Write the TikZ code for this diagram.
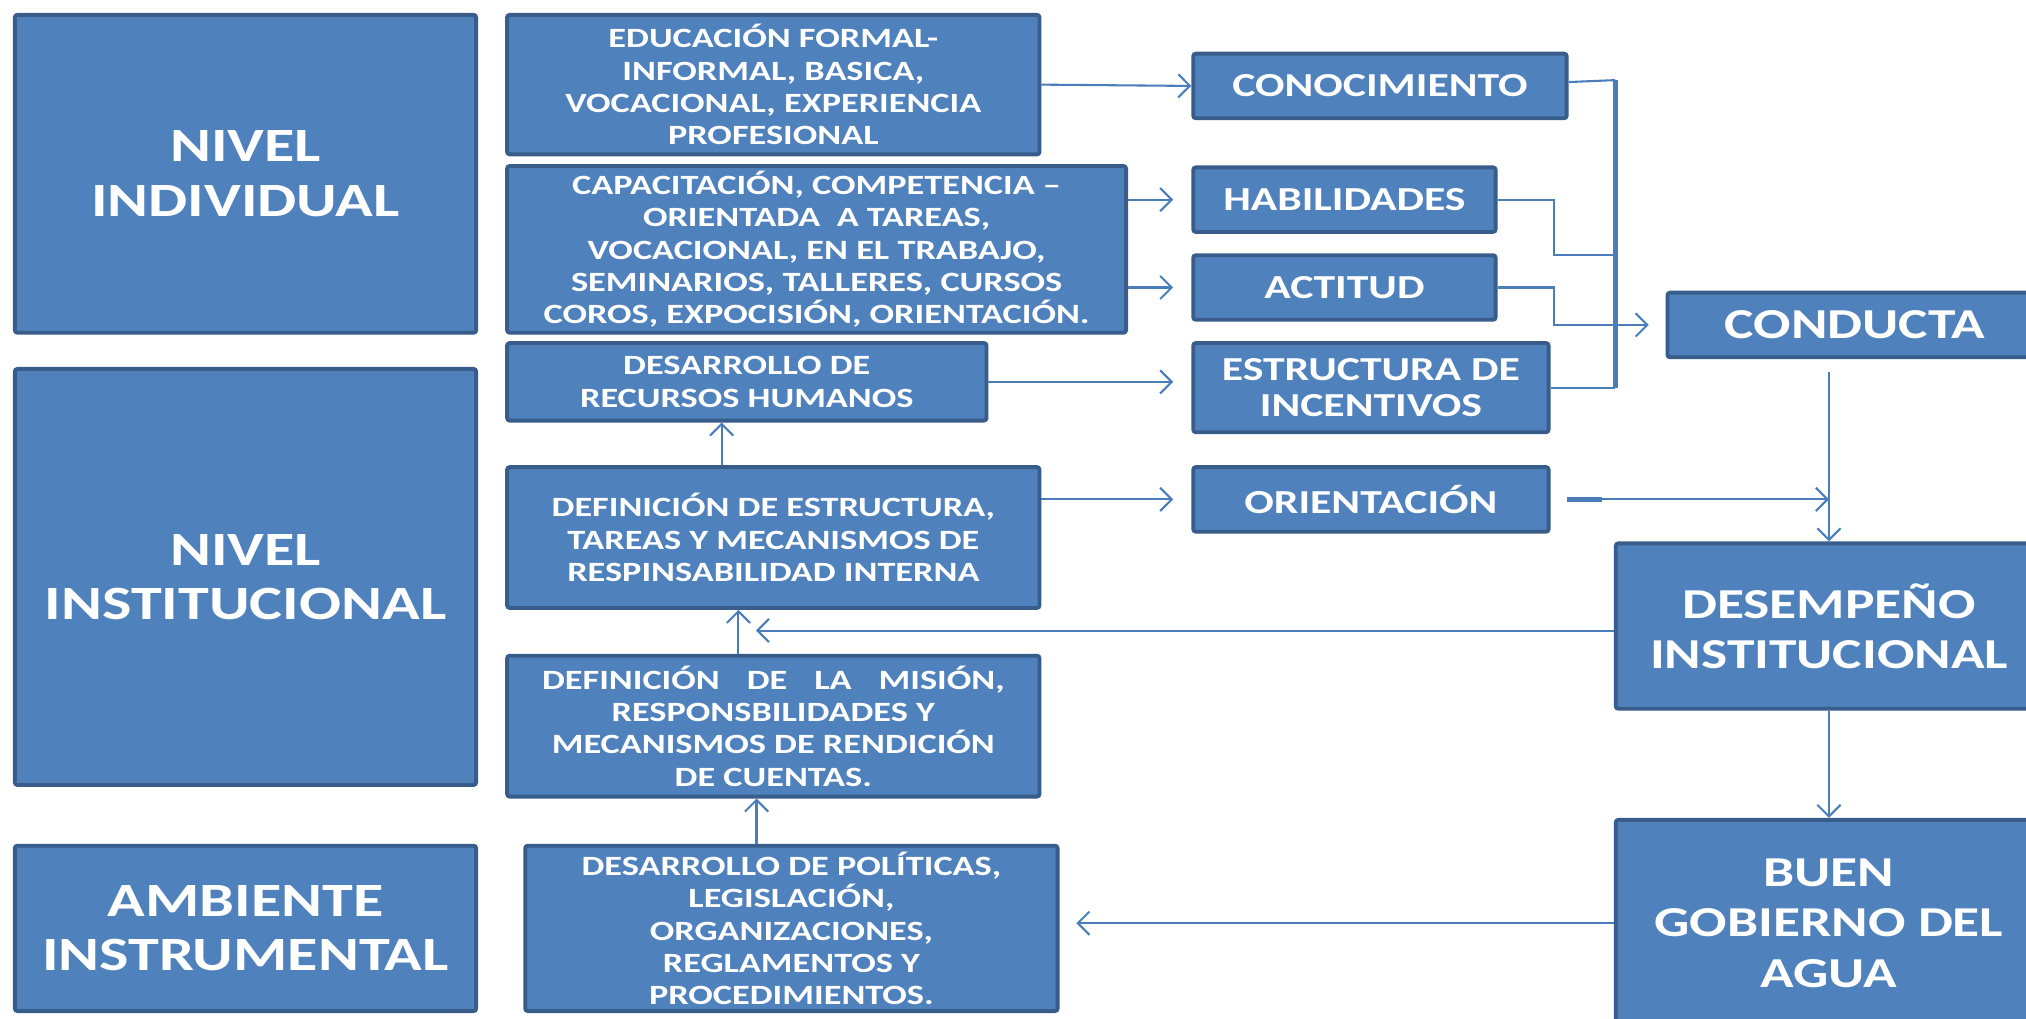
\documentclass[tikz,border=0pt]{standalone}
\usepackage{fontspec}
\setmainfont[FakeStretch=1.3]{Carlito}
\usepackage{tikz}
\usetikzlibrary{arrows.meta, positioning}
\definecolor{boxfill}{HTML}{4F81BD}
\definecolor{boxline}{HTML}{385D8A}
\definecolor{linecol}{HTML}{4A7EBB}
\tikzset{
		base/.style={
			rectangle,
			fill=boxfill,
			draw=boxline,
			line width=1.5pt,
			rounded corners=1pt,
			text=white,
			align=center,
			inner sep=0pt,
			anchor=north west
		},
		level/.style={base, font=\fontsize{18.5}{21}\selectfont\bfseries},
		detail/.style={base, font=\fontsize{10.8}{12.5}\selectfont\bfseries},
		factor/.style={base, font=\fontsize{13}{14}\selectfont\bfseries},
		result/.style={base, font=\fontsize{16.5}{19.5}\selectfont\bfseries},
		line/.style={draw=linecol, line width=0.8pt},
		conn/.style={line, -{Straight Barb[length=4.5pt,width=9pt]}}
	}
\begin{document}
\begin{tikzpicture}[x=0.5pt, y=-0.5pt]
		\clip (0,0) rectangle (1568,788);
		\fill[white] (0,0) rectangle (1568,788);
		% levels
		\node[level, minimum width=178.5pt, minimum height=123pt] (indiv) at (10,10) {NIVEL\\INDIVIDUAL};
		\node[level, minimum width=178.5pt, minimum height=161pt] (instit) at (10,284) {NIVEL\\INSTITUCIONAL};
		\node[level, minimum width=178.5pt, minimum height=64pt] (ambiente) at (10,653) {AMBIENTE\\INSTRUMENTAL};
		% actions
		\node[detail, minimum width=206pt, minimum height=54pt] (educ) at (391,10)
			{EDUCACIÓN FORMAL-\\INFORMAL, BASICA,\\VOCACIONAL, EXPERIENCIA\\PROFESIONAL};
		\node[detail, minimum width=239.5pt, minimum height=64.5pt] (capac) at (391,127)
			{CAPACITACIÓN, COMPETENCIA –\\ORIENTADA\ \ A TAREAS,\\VOCACIONAL, EN EL TRABAJO,\\SEMINARIOS, TALLERES, CURSOS\\COROS, EXPOCISIÓN, ORIENTACIÓN.};
		\node[detail, minimum width=185.5pt, minimum height=30pt] (rrhh) at (391,264)
			{DESARROLLO DE\\RECURSOS HUMANOS};
		\node[detail, minimum width=206pt, minimum height=54.5pt] (estruc) at (391,360)
			{DEFINICIÓN DE ESTRUCTURA,\\TAREAS Y MECANISMOS DE\\RESPINSABILIDAD INTERNA};
		\node[detail, minimum width=206pt, minimum height=54.5pt] (mision) at (391,506)
			{\makebox[179pt][s]{DEFINICIÓN DE LA MISIÓN,}\\RESPONSBILIDADES Y\\MECANISMOS DE RENDICIÓN\\DE CUENTAS.};
		\node[detail, minimum width=206pt, minimum height=64pt] (politicas) at (405,653)
			{DESARROLLO DE POLÍTICAS,\\LEGISLACIÓN,\\ORGANIZACIONES,\\REGLAMENTOS Y\\PROCEDIMIENTOS.};
		% factors
		\node[factor, minimum width=144.5pt, minimum height=25pt] (conoc) at (922,40) {CONOCIMIENTO};
		\node[factor, minimum width=117pt, minimum height=25pt] (habil) at (922,128) {HABILIDADES};
		\node[factor, minimum width=117pt, minimum height=25pt] (actitud) at (922,196) {ACTITUD};
		\node[factor, minimum width=137.5pt, minimum height=34.5pt] (incent) at (922,264) {ESTRUCTURA DE\\INCENTIVOS};
		\node[factor, minimum width=137.5pt, minimum height=25pt] (orient) at (922,360) {ORIENTACIÓN};
		% results
		\node[result, minimum width=145pt, minimum height=25pt] (conducta) at (1289,225) {CONDUCTA};
		\node[result, minimum width=165pt, minimum height=64pt] (desemp) at (1249,419) {DESEMPEÑO\\INSTITUCIONAL};
		\node[result, minimum width=165pt, minimum height=80pt] (buen) at (1249,633) {BUEN\\GOBIERNO DEL\\AGUA};
		\coordinate (bus) at (1250,0);
		\coordinate (kink) at (1203,0);
		\coordinate (fb) at (585,488);
		%arrows:
		\draw[conn] (educ.east) -- (conoc.west);
		\draw[conn, shorten >=7pt] (capac.east |- habil.west) -- (habil.west);
		\draw[conn, shorten >=7pt] (capac.east |- actitud.west) -- (actitud.west);
		\draw[conn, shorten >=7pt] (rrhh.east) -- (rrhh.east -| incent.west);
		\draw[conn, shorten >=7pt] (estruc.east |- orient.west) -- (orient.west);
		\draw[conn] ([xshift=-20pt]estruc.north) -- ([xshift=-20pt]estruc.north |- rrhh.south);
		\draw[conn] ([xshift=-13.5pt]mision.north) -- ([xshift=-13.5pt]mision.north |- estruc.south);
		\draw[conn] ([xshift=-13.5pt]politicas.north) -- ([xshift=-13.5pt]politicas.north |- mision.south);
		\draw[line] ([yshift=1.5pt]conoc.east) -- (bus |- 0,62);
		\draw[line] (bus |- incent.east) -- (incent.east);
		\draw[line, line width=2pt] (bus |- 0,62) -- (bus |- incent.east);
		\draw[line] (habil.east) -| (kink |- 0,197) -- (bus |- 0,197);
		\draw[conn, shorten >=6.5pt] (actitud.east) -| (kink |- conducta.west) -- (conducta.west);
		\draw[conn, shorten <=5pt] (desemp.north |- conducta.south) -- (desemp.north);
		\draw[line, line width=2pt, shorten <=6.5pt] (orient.east) -- ++(40,0);
		\draw[conn, shorten <=6.5pt] (orient.east) -- (desemp.north |- orient.east);
		\draw[conn] (desemp.west |- fb) -- (fb);
		\draw[conn] (desemp.south) -- (buen.north);
		\draw[conn, shorten >=6.5pt] (buen.west) -- (buen.west -| politicas.east);
	\end{tikzpicture}
\end{document}
